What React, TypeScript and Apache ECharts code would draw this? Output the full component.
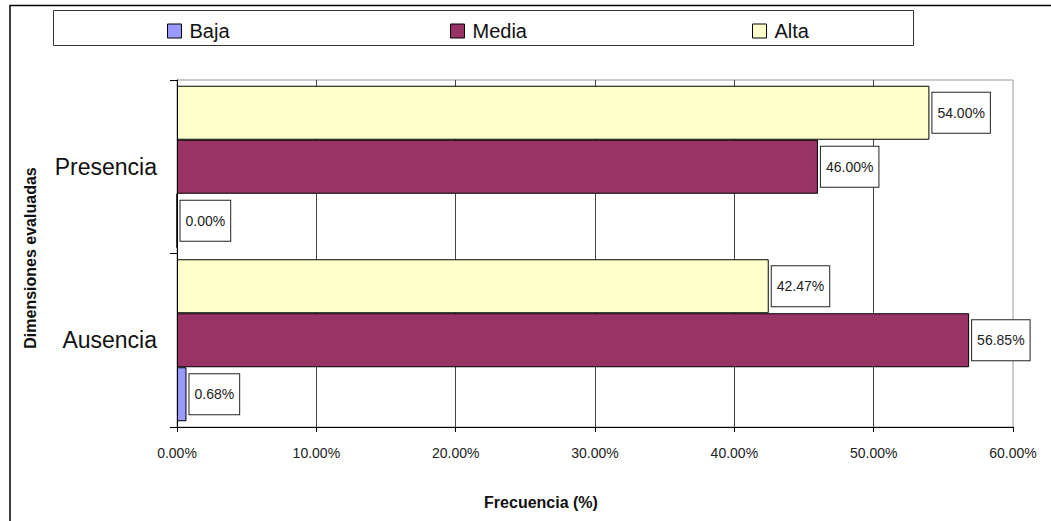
import React, { useEffect, useRef } from "react";
import * as echarts from "echarts";

const categories = ["Ausencia", "Presencia"];
const seriesNames = ["Baja", "Media", "Alta"];
const baja = [0.68, 0];
const media = [56.85, 46];
const alta = [42.47, 54];
const xTicks = [0, 10, 20, 30, 40, 50, 60];
const colors = ["#9999FF", "#993366", "#FFFFCC"];

const FONT = "'Liberation Sans', Arial, sans-serif";

export default function App() {
  const ref = useRef<HTMLDivElement>(null);
  useEffect(() => {
    if (!ref.current) return;
    const chart = echarts.init(ref.current, null, { renderer: "svg" });
    const values = [baja, media, alta];
    const legendLefts = [167, 450, 752];
    // ECharts places the first bar series at the top of each horizontal band,
    // so series are added from Alta (top) to Baja (bottom).
    const order = [2, 1, 0];
    const option: any = {
      animation: false,
      backgroundColor: "#ffffff",
      textStyle: { fontFamily: FONT },
      legend: seriesNames.map((n, i) => ({
        data: [n],
        left: legendLefts[i],
        top: 21,
        padding: 0,
        itemWidth: 14,
        itemHeight: 14,
        icon: "rect",
        itemStyle: { borderColor: "#000", borderWidth: 1 },
        textStyle: { fontSize: 20, color: "#111", fontFamily: FONT, padding: [0, 0, 0, 3] },
      })),
      grid: {
        left: 177,
        top: 80,
        right: 38,
        bottom: 94,
        show: true,
        borderColor: "#999",
        borderWidth: 1,
        backgroundColor: "transparent",
      },
      xAxis: {
        type: "value",
        min: xTicks[0],
        max: xTicks[xTicks.length - 1],
        interval: 10,
        axisLine: { show: true, lineStyle: { color: "#000", width: 1 } },
        axisTick: { show: true, length: 5, lineStyle: { color: "#000" } },
        axisLabel: {
          formatter: (v: number) => v.toFixed(2) + "%",
          fontSize: 14,
          color: "#222",
          margin: 19,
          fontFamily: FONT,
        },
        splitLine: { show: true, showMinLine: false, showMaxLine: false, lineStyle: { color: "#444", width: 1 } },
      },
      yAxis: {
        type: "category",
        data: categories,
        axisLine: { show: true, lineStyle: { color: "#000", width: 1 } },
        axisTick: { show: true, length: 7, lineStyle: { color: "#000" } },
        axisLabel: { fontSize: 23, color: "#111", margin: 20, fontFamily: FONT },
        splitLine: { show: false },
      },
      series: order.map((i) => ({
        name: seriesNames[i],
        type: "bar",
        data: values[i],
        barWidth: 54,
        barGap: "0%",
        itemStyle: { color: colors[i], borderColor: "#000", borderWidth: 1 },
        label: {
          show: true,
          position: "right",
          distance: 3,
          formatter: (p: any) => Number(p.value).toFixed(2) + "%",
          fontSize: 14,
          color: "#222",
          fontFamily: FONT,
          backgroundColor: "#fff",
          borderColor: "#222",
          borderWidth: 1,
          padding: [13, 5, 13, 5],
        },
      })),
      graphic: [
        {
          type: "rect",
          shape: { x: 10, y: 5.5, width: 1100, height: 600 },
          style: { fill: "none", stroke: "#000", lineWidth: 1.5 },
          silent: true,
          z: -10,
        },
        {
          type: "rect",
          shape: { x: 53.5, y: 10.5, width: 860, height: 35 },
          style: { fill: "none", stroke: "#333", lineWidth: 1 },
          silent: true,
        },
        {
          type: "text",
          x: 541,
          y: 502,
          style: {
            text: "Frecuencia (%)",
            font: `bold 16px ${FONT}`,
            fill: "#111",
            align: "center",
            verticalAlign: "middle",
          },
        },
        {
          type: "text",
          x: 30,
          y: 258,
          rotation: Math.PI / 2,
          style: {
            text: "Dimensiones evaluadas",
            font: `bold 16px ${FONT}`,
            fill: "#111",
            align: "center",
            verticalAlign: "middle",
          },
        },
      ],
    };
    chart.setOption(option);
    return () => chart.dispose();
  }, []);
  return (
    <div
      ref={ref}
      style={{ position: "fixed", left: 0, top: 0, width: 1051, height: 521 }}
    />
  );
}
